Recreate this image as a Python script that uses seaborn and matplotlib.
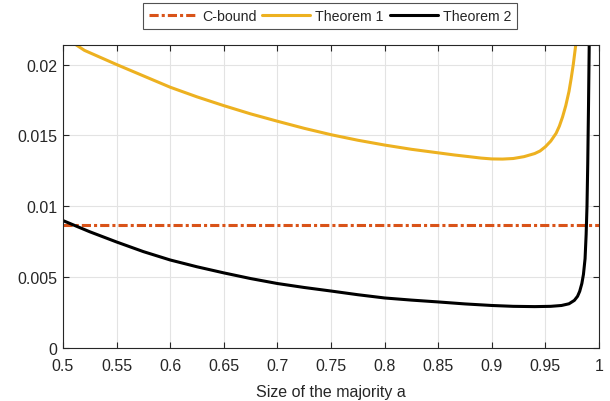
import matplotlib
matplotlib.use("Agg")
import matplotlib.pyplot as plt
import seaborn as sns
import pandas as pd

# values
c_bound_a = [0.5, 1.0]
c_bound_val = [0.00871, 0.00871]

thm1_a = [0.5, 0.51, 0.52, 0.535, 0.55, 0.575, 0.6, 0.625, 0.65, 0.675, 0.7,
          0.725, 0.75, 0.775, 0.8, 0.825, 0.85, 0.865, 0.88, 0.89, 0.9, 0.91,
          0.92, 0.93, 0.94, 0.945, 0.95, 0.955, 0.96, 0.963, 0.966, 0.969,
          0.972, 0.974, 0.976, 0.978, 0.98]
thm1_val = [0.0220, 0.0215, 0.0210, 0.0205, 0.0200, 0.0192, 0.0184, 0.01772,
            0.0171, 0.01652, 0.0160, 0.01550, 0.01505, 0.01466, 0.01432,
            0.01402, 0.01377, 0.01362, 0.01349, 0.01340, 0.01334, 0.01333,
            0.01337, 0.01350, 0.01372, 0.01390, 0.01420, 0.01460, 0.01515,
            0.01565, 0.01630, 0.0171, 0.0181, 0.0190, 0.0200, 0.0212, 0.0226]

thm2_a = [0.5, 0.525, 0.55, 0.575, 0.6, 0.625, 0.65, 0.675, 0.7, 0.725, 0.75,
          0.775, 0.8, 0.825, 0.85, 0.875, 0.9, 0.92, 0.94, 0.955, 0.965,
          0.972, 0.977, 0.98, 0.982, 0.984, 0.9855, 0.987, 0.988, 0.9888,
          0.9895, 0.9902, 0.991]
thm2_val = [0.00899, 0.00820, 0.00748, 0.00680, 0.00621, 0.00573, 0.00530,
            0.00490, 0.00455, 0.00427, 0.00402, 0.00376, 0.00353, 0.00338,
            0.00325, 0.00311, 0.00300, 0.00294, 0.00292, 0.00294, 0.00300,
            0.00312, 0.00336, 0.00365, 0.00400, 0.00455, 0.00520, 0.0063,
            0.0080, 0.0100, 0.0130, 0.0170, 0.0222]

ORANGE = "#D95319"
YELLOW = "#EDB120"
DARK = "#262626"

sns.set_style("ticks")
plt.rcParams["font.family"] = ["Liberation Sans", "DejaVu Sans"]

fig, ax = plt.subplots(figsize=(6.1, 4.02), dpi=100)
fig.subplots_adjust(left=63 / 610, right=599 / 610, top=1 - 45.7 / 402, bottom=1 - 349 / 402)

df_c = pd.DataFrame({"a": c_bound_a, "v": c_bound_val})
df_1 = pd.DataFrame({"a": thm1_a, "v": thm1_val})
df_2 = pd.DataFrame({"a": thm2_a, "v": thm2_val})

sns.lineplot(data=df_c, x="a", y="v", ax=ax, color=ORANGE, lw=2.2,
             linestyle=(0, (3, 1, 1, 1)), label="C-bound")
sns.lineplot(data=df_1, x="a", y="v", ax=ax, color=YELLOW, lw=2.2, label="Theorem 1")
sns.lineplot(data=df_2, x="a", y="v", ax=ax, color="black", lw=2.2, label="Theorem 2")

ax.set_xlim(0.5, 1.0)
ax.set_ylim(0, 0.0214)
ax.set_xticks([0.5, 0.55, 0.6, 0.65, 0.7, 0.75, 0.8, 0.85, 0.9, 0.95, 1.0])
ax.set_xticklabels(["0.5", "0.55", "0.6", "0.65", "0.7", "0.75", "0.8", "0.85", "0.9", "0.95", "1"])
ax.set_yticks([0, 0.005, 0.01, 0.015, 0.02])
ax.set_yticklabels(["0", "0.005", "0.01", "0.015", "0.02"])

ax.grid(True, color="#e3e3e3", lw=0.8)
ax.set_axisbelow(True)
ax.tick_params(direction="in", length=4, width=0.8, colors=DARK,
               labelsize=11.5, top=True, right=True)
ax.tick_params(axis="x", pad=7)
ax.tick_params(axis="y", pad=4)
for s in ax.spines.values():
    s.set_color(DARK)
    s.set_linewidth(0.8)

ax.set_xlabel("Size of the majority a", fontsize=11.5, color=DARK, labelpad=8)
ax.set_ylabel("")

leg = ax.legend(loc="center", bbox_to_anchor=(330 / 610, 1 - 17 / 402),
                bbox_transform=fig.transFigure, ncol=3, frameon=True,
                fontsize=10.2, handlelength=3.4, handletextpad=0.35,
                columnspacing=0.4, borderpad=0.45, borderaxespad=0,
                fancybox=False)
leg.get_frame().set_edgecolor(DARK)
leg.get_frame().set_linewidth(0.8)

fig.savefig("out.png", dpi=100)
